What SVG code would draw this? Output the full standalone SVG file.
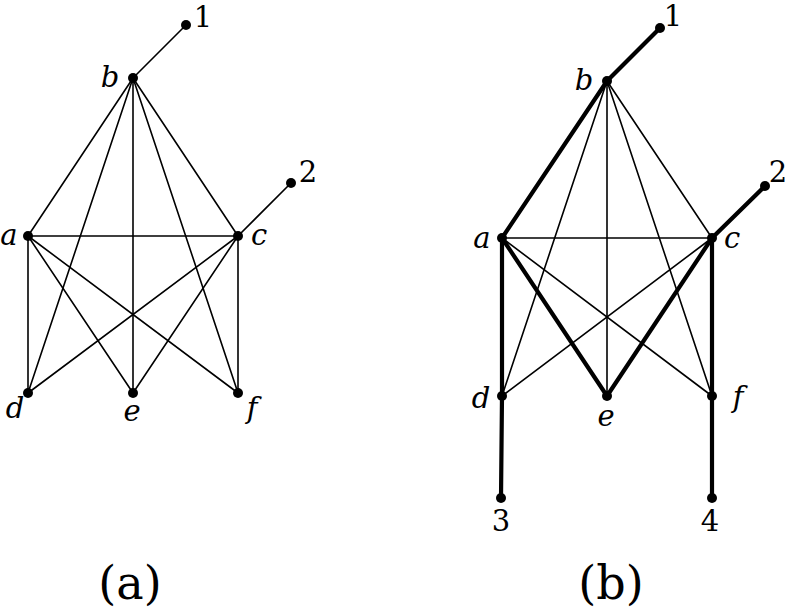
<svg xmlns="http://www.w3.org/2000/svg" width="787" height="610" viewBox="0 0 787 610">
<style>
.thin{stroke:#000;stroke-width:1.6;fill:none;stroke-linecap:round}
.thick{stroke:#000;stroke-width:4.2;fill:none;stroke-linecap:round}
.dot{fill:#000}
.it{font-family:"DejaVu Serif","Liberation Serif",serif;font-style:italic;font-size:29px;text-anchor:middle;fill:#000}
.num{font-family:"DejaVu Serif","Liberation Serif",serif;font-size:29px;text-anchor:middle;fill:#000}
.cap{font-family:"DejaVu Serif","Liberation Serif",serif;font-size:46px;text-anchor:middle;fill:#000}
</style>
<rect width="787" height="610" fill="#fff"/>
<g id="edges-a">
<line class="thin" x1="133" y1="78" x2="186" y2="25"/>
<line class="thin" x1="238" y1="236" x2="291" y2="183"/>
<line class="thin" x1="133" y1="78" x2="28" y2="236"/>
<line class="thin" x1="133" y1="78" x2="238" y2="236"/>
<line class="thin" x1="133" y1="78" x2="28" y2="393"/>
<line class="thin" x1="133" y1="78" x2="133" y2="393"/>
<line class="thin" x1="133" y1="78" x2="238" y2="393"/>
<line class="thin" x1="28" y1="236" x2="238" y2="236"/>
<line class="thin" x1="28" y1="236" x2="28" y2="393"/>
<line class="thin" x1="28" y1="236" x2="133" y2="393"/>
<line class="thin" x1="28" y1="236" x2="238" y2="393"/>
<line class="thin" x1="238" y1="236" x2="28" y2="393"/>
<line class="thin" x1="238" y1="236" x2="133" y2="393"/>
<line class="thin" x1="238" y1="236" x2="238" y2="393"/>
</g>
<g id="edges-b">
<line class="thin" x1="607" y1="81" x2="502" y2="396"/>
<line class="thin" x1="607" y1="81" x2="607" y2="396"/>
<line class="thin" x1="607" y1="81" x2="712" y2="396"/>
<line class="thin" x1="607" y1="81" x2="712" y2="238"/>
<line class="thin" x1="502" y1="238" x2="712" y2="238"/>
<line class="thin" x1="502" y1="238" x2="712" y2="396"/>
<line class="thin" x1="712" y1="238" x2="502" y2="396"/>
<line class="thick" x1="607" y1="81" x2="660" y2="28"/>
<line class="thick" x1="607" y1="81" x2="502" y2="238"/>
<line class="thick" x1="502" y1="238" x2="502" y2="396"/>
<line class="thick" x1="502" y1="238" x2="607" y2="396"/>
<line class="thick" x1="712" y1="238" x2="607" y2="396"/>
<line class="thick" x1="712" y1="238" x2="712" y2="396"/>
<line class="thick" x1="712" y1="238" x2="765" y2="186"/>
<line class="thick" x1="502" y1="396" x2="501" y2="498"/>
<line class="thick" x1="712" y1="396" x2="712" y2="498"/>
</g>
<g id="a-b"><circle class="dot" cx="133" cy="78" r="5"/><text class="it" x="110" y="87">b</text></g>
<g id="a-1"><circle class="dot" cx="186" cy="25" r="5"/><text class="num" x="203" y="27">1</text></g>
<g id="a-a"><circle class="dot" cx="28" cy="236" r="5"/><text class="it" x="9" y="245">a</text></g>
<g id="a-c"><circle class="dot" cx="238" cy="236" r="5"/><text class="it" x="259" y="245">c</text></g>
<g id="a-2"><circle class="dot" cx="291" cy="183" r="5"/><text class="num" x="308" y="182">2</text></g>
<g id="a-d"><circle class="dot" cx="28" cy="393" r="5"/><text class="it" x="15" y="418">d</text></g>
<g id="a-e"><circle class="dot" cx="133" cy="393" r="5"/><text class="it" x="132" y="421">e</text></g>
<g id="a-f"><circle class="dot" cx="238" cy="393" r="5"/><text class="it" x="252" y="418">f</text></g>
<g id="b-b"><circle class="dot" cx="607" cy="81" r="5"/><text class="it" x="584" y="90">b</text></g>
<g id="b-1"><circle class="dot" cx="660" cy="28" r="5"/><text class="num" x="673" y="26">1</text></g>
<g id="b-a"><circle class="dot" cx="502" cy="238" r="5"/><text class="it" x="482" y="248">a</text></g>
<g id="b-c"><circle class="dot" cx="712" cy="238" r="5"/><text class="it" x="732" y="248">c</text></g>
<g id="b-2"><circle class="dot" cx="765" cy="186" r="5"/><text class="num" x="778" y="182">2</text></g>
<g id="b-d"><circle class="dot" cx="502" cy="396" r="5"/><text class="it" x="481" y="408">d</text></g>
<g id="b-e"><circle class="dot" cx="607" cy="396" r="5"/><text class="it" x="606" y="426">e</text></g>
<g id="b-f"><circle class="dot" cx="712" cy="396" r="5"/><text class="it" x="738" y="407">f</text></g>
<g id="b-3"><circle class="dot" cx="501" cy="498" r="5"/><text class="num" x="501" y="531">3</text></g>
<g id="b-4"><circle class="dot" cx="712" cy="498" r="5"/><text class="num" x="710" y="531">4</text></g>
<text class="cap" x="130" y="599">(a)</text>
<text class="cap" x="611" y="599">(b)</text>
</svg>
